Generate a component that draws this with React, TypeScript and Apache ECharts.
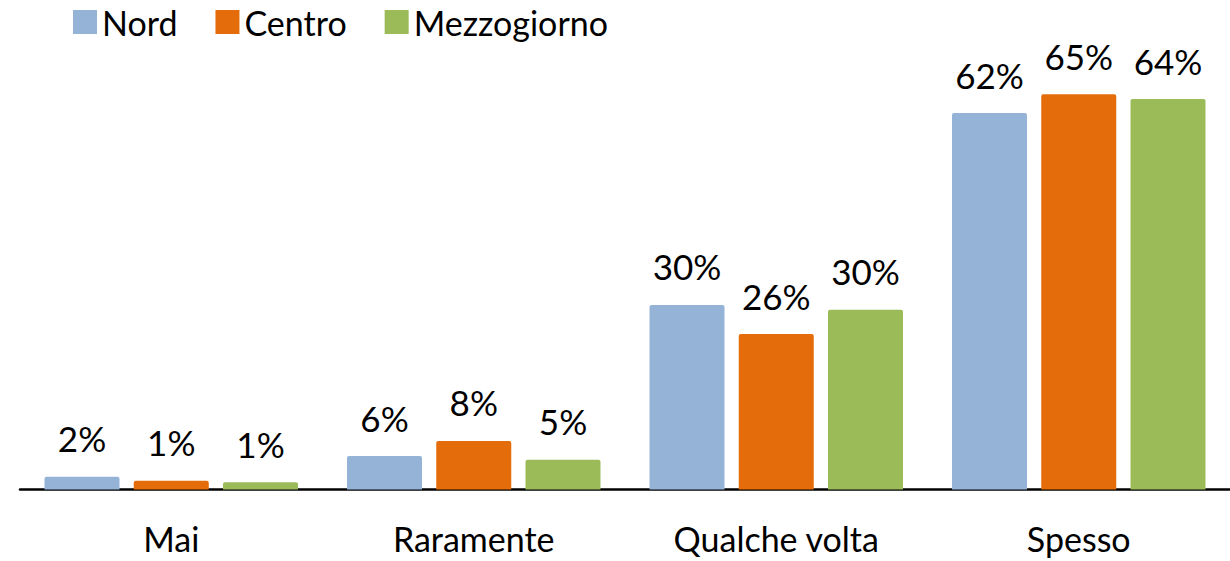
import React, { useEffect, useRef } from "react";
import * as echarts from "echarts";

const categories = ["Mai", "Raramente", "Qualche volta", "Spesso"];
const seriesNames = ["Nord", "Centro", "Mezzogiorno"];
const nord = [2.1, 5.5, 30.4, 62.0];
const centro = [1.45, 8.0, 25.6, 65.1];
const mezzogiorno = [1.2, 4.9, 29.6, 64.3];
const colors = ["#95B3D7", "#E46C0A", "#9BBB59"];

const FONT = "Lato";

export default function App() {
  const ref = useRef<HTMLDivElement>(null);
  useEffect(() => {
    if (!ref.current) return;
    const chart = echarts.init(ref.current, undefined, { renderer: "svg" });
    const values = [nord, centro, mezzogiorno];
    chart.setOption({
      animation: false,
      textStyle: { fontFamily: FONT },
      legend: {
        left: 68,
        top: 0,
        itemWidth: 24,
        itemHeight: 24,
        itemGap: 38,
        icon: "rect",
        textStyle: { fontFamily: FONT, fontSize: 34, color: "#000" },
        data: seriesNames,
      },
      grid: { left: 20, width: 1212, top: 64.5, bottom: 71.5, containLabel: false },
      xAxis: {
        type: "category",
        data: categories,
        axisLine: { lineStyle: { color: "#000", width: 2.5 } },
        axisTick: { show: false },
        axisLabel: { fontFamily: FONT, fontSize: 34, color: "#000", margin: 32 },
      },
      yAxis: {
        type: "value",
        min: 0,
        max: 70,
        show: false,
        splitLine: { show: false },
      },
      series: seriesNames.map((name, i) => ({
        name,
        type: "bar",
        data: values[i],
        barWidth: 75,
        barGap: "19%",
        itemStyle: { color: colors[i], borderRadius: [2, 2, 0, 0] },
        label: {
          show: true,
          position: "top",
          distance: 21,
          fontFamily: FONT,
          fontSize: 35,
          color: "#000",
          formatter: (p: any) => Math.round(p.value) + "%",
        },
      })),
    });
    return () => chart.dispose();
  }, []);
  return (
    <div
      ref={ref}
      style={{ position: "fixed", left: 0, top: 0, width: 1230, height: 561, background: "#fff" }}
    />
  );
}
